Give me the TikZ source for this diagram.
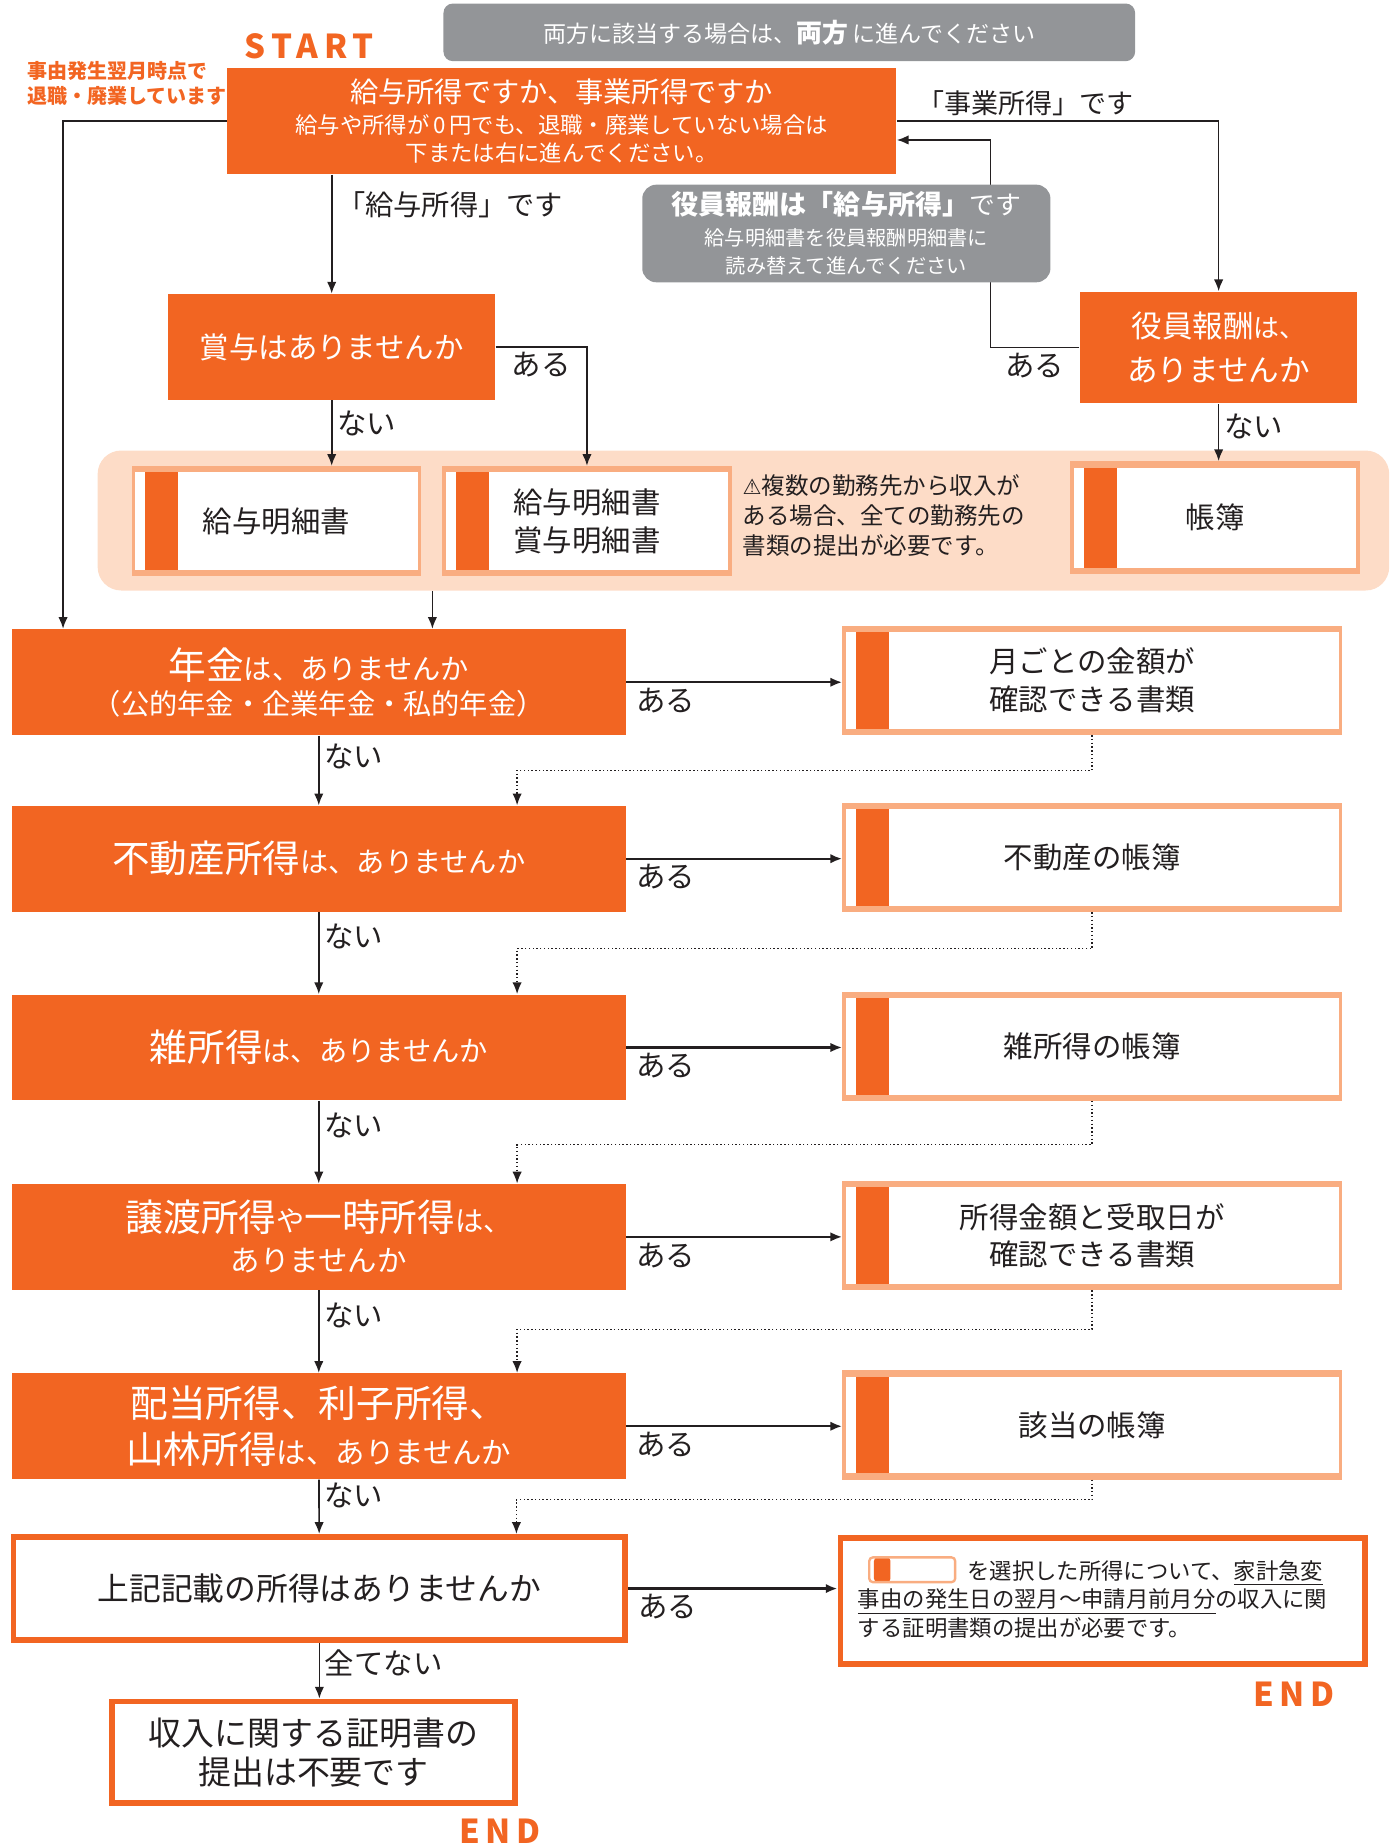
\documentclass[tikz,border=0pt]{standalone}
\usepackage{fontspec}
\setmainfont{Noto Sans CJK JP}
\newfontfamily\symfont{DejaVu Sans}
\newfontfamily\spacedfont[LetterSpace=18]{Noto Sans CJK JP}
\usetikzlibrary{arrows.meta}
\definecolor{ora}{HTML}{F26522}
\definecolor{docedge}{HTML}{F9AD81}
\definecolor{peach}{HTML}{FDDCC7}
\definecolor{note}{HTML}{939598}
\definecolor{ink}{HTML}{231F20}
\newcommand\fsz[2]{\fontsize{#1}{#2}\selectfont}
\tikzset{
  >={Latex[length=5pt,width=4pt]},
  qbox/.style={fill=ora, text=white, inner sep=0pt, align=center, minimum width=261pt, minimum height=45pt},
  docbox/.style={draw=docedge, line width=1.5pt, fill=white, inner sep=0pt, align=center, text=ink,
    font=\fsz{12.5}{16}, minimum width=211pt, minimum height=45pt,
    path picture={
      \fill[docedge] (path picture bounding box.north west) rectangle ([yshift=-2pt]path picture bounding box.north east);
      \fill[docedge] (path picture bounding box.south west) rectangle ([yshift=2pt]path picture bounding box.south east);
      \fill[ora] ([xshift=5pt,yshift=-2pt]path picture bounding box.north west) rectangle ([xshift=19pt,yshift=2pt]path picture bounding box.south west);
    }},
  endbox/.style={draw=ora, line width=2.5pt, fill=white, inner sep=0pt, align=center, text=ink},
  lbl/.style={font=\fsz{12.5}{15}, text=ink, inner sep=2pt},
  conn/.style={->, line width=0.7pt, draw=ink},
  dots/.style={->, densely dotted, line width=0.6pt, draw=ink},
  endmark/.style={text=ora, font=\spacedfont\bfseries\fsz{14}{16}},
}
\begin{document}
\begin{tikzpicture}[x=0.5pt,y=-0.5pt]
\useasboundingbox (0,0) rectangle (1186,1568.5);

% top part
\node[fill=note, rounded corners=4pt, minimum width=294pt, minimum height=24.5pt, text=white, font=\fsz{9.8}{12}] (both) at (671,27.5) {両方に該当する場合は、{\bfseries\fsz{11}{12}両方}\,に進んでください};
\node[endmark] (start) at (263,39) {START};
\node[text=ora, font=\bfseries\fsz{8.5}{10.5}, align=left] (quit) at (108,71) {事由発生翌月時点で\\退職・廃業しています};
\node[qbox, minimum width=284.5pt] (main) at (477.5,103) {{\fsz{12}{14}給与所得ですか、事業所得ですか}\\[1pt]{\fsz{9.5}{11.5}給与や所得が\,0\,円でも、退職・廃業していない場合は}\\{\fsz{9.5}{11.5}下または右に進んでください。}};
\node[qbox, minimum width=139pt, font=\fsz{12.5}{15}] (bonus) at (282,295) {賞与はありませんか};
\node[qbox, minimum width=118pt, minimum height=47.5pt] (yakuin) at (1036,295.5) {{\fsz{13}{15}役員報酬}{\fsz{11}{13}は、}\\[6.5pt]{\fsz{13}{15}ありませんか}};

% documents band
\node[fill=peach, rounded corners=10pt, minimum width=549pt, minimum height=59.5pt] (band) at (632,442.5) {};
\node[docbox, minimum width=121.5pt, minimum height=45.5pt] (slip) at (235,443) {給与明細書};
\node[docbox, minimum width=121.5pt, minimum height=45.5pt] (slipbonus) at (499,443) {給与明細書\\賞与明細書};
\node[text=ink, font=\fsz{10}{12.75}, align=left, anchor=west, inner sep=0pt] (multi) at (631,438) {{\symfont\fsz{9}{12.75}⚠}複数の勤務先から収入が\\ある場合、全ての勤務先の\\書類の提出が必要です。};
\node[docbox, minimum width=121.5pt, minimum height=46.5pt] (ledger) at (1033,440) {帳簿};

% income questions
\node[qbox] (pension) at (271,580) {{\fsz{16}{19}年金}{\fsz{12}{14}は、ありませんか}\\[3pt]{\fsz{12}{14}（公的年金・企業年金・私的年金）}};
\node[qbox] (estate) at (271,730) {{\fsz{16}{19}不動産所得}{\fsz{12}{14}は、ありませんか}};
\node[qbox] (misc) at (271,890.5) {{\fsz{16}{19}雑所得}{\fsz{12}{14}は、ありませんか}};
\node[qbox] (transfer) at (271,1051.5) {{\fsz{16}{19}譲渡所得}{\fsz{12}{14}や}{\fsz{16}{19}一時所得}{\fsz{12}{14}は、}\\[5pt]{\fsz{12.5}{14}ありませんか}};
\node[qbox] (dividend) at (271,1212.5) {{\fsz{16}{19}配当所得、利子所得、}\\[3.5pt]{\fsz{16}{19}山林所得}{\fsz{12.5}{14}は、ありませんか}};
\node[endbox, minimum width=260pt, minimum height=44pt, font=\fsz{13.5}{16}] (above) at (271.5,1350.5) {上記記載の所得はありませんか};
\node[endbox, minimum width=171pt, minimum height=43pt, font=\fsz{14}{16.5}] (noneed) at (266.5,1489.5) {収入に関する証明書の\\提出は不要です};
\node[endmark] (end1) at (425,1557) {END};

% documents
\node[docbox] (monthly) at (928.5,578.5) {月ごとの金額が\\確認できる書類};
\node[docbox] (estatebook) at (928.5,729) {不動産の帳簿};
\node[docbox] (miscbook) at (928.5,889.5) {雑所得の帳簿};
\node[docbox] (receipt) at (928.5,1050.5) {所得金額と受取日が\\確認できる書類};
\node[docbox] (bookentry) at (928.5,1211.5) {該当の帳簿};
\node[endbox, minimum width=223pt, minimum height=53.5pt] (submit) at (937.5,1361) {};
\node[draw=docedge, line width=1pt, rounded corners=1.5pt, fill=white, minimum width=36.5pt, minimum height=10.5pt, inner sep=0pt,
  path picture={\fill[ora] ([xshift=2pt]path picture bounding box.north west) rectangle ([xshift=9pt]path picture bounding box.south west);}] (icon) at (775.5,1334.5) {};
\node[anchor=north west, align=left, font=\fsz{9.5}{12.25}, text=ink, inner sep=0pt] (submittext) at (729,1326) {\hspace*{46.5pt}を選択した所得について、\underline{家計急変}\\\underline{事由の発生日の翌月～申請月前月分}の収入に関\\する証明書類の提出が必要です。};
\node[endmark] (end2) at (1100,1440) {END};

% connectors
\draw[conn] (main.west) -| ([xshift=22pt]pension.north west);
\draw[conn] (bonus.north |- main.south) -- (bonus.north) node[lbl, pos=0.25, right, font=\fsz{12}{14}] (lsalary) {「給与所得」です};
\draw[conn] (main.east) -| node[lbl, pos=0.2, above, font=\fsz{11.5}{14}] (lbusiness) {「事業所得」です} (yakuin.north);
\coordinate (back) at (842,119);
\draw[conn] (yakuin.west) -| node[lbl, pos=0.25, below] (lyakuin) {ある} (back) -- (back -| main.east);
\draw[conn] (bonus.east) -| node[lbl, pos=0.25, below] (lbonus) {ある} (slipbonus.north);
\draw[conn] (bonus.south) -- (bonus.south |- slip.north) node[lbl, pos=0.35, right] (lnobonus) {ない};
\draw[conn] (yakuin.south) -- (yakuin.south |- ledger.north) node[lbl, pos=0.4, right] (lnoyakuin) {ない};
\coordinate (bandout) at ([xshift=142.5pt]band.south west);
\draw[conn] (bandout) -- (bandout |- pension.north);

\draw[conn] (pension) -- (estate) node[lbl, pos=0.3, right] (ln1) {ない};
\draw[conn] (estate) -- (misc) node[lbl, pos=0.3, right] (ln2) {ない};
\draw[conn] (misc) -- (transfer) node[lbl, pos=0.3, right] (ln3) {ない};
\draw[conn] (transfer) -- (dividend) node[lbl, pos=0.3, right] (ln4) {ない};
\draw[conn] (dividend) -- (above) node[lbl, pos=0.3, right] (ln5) {ない};
\draw[conn] (above.south) -- (above.south |- noneed.north) node[lbl, pos=0.35, right] (lnone) {全てない};

\draw[conn, line width=1pt] (pension.east) -- (pension.east -| monthly.west) node[lbl, pos=0.02, below right] (ly1) {ある};
\draw[conn, line width=1pt] (estate.east) -- (estate.east -| estatebook.west) node[lbl, pos=0.02, below right] (ly2) {ある};
\draw[conn, line width=1pt] (misc.east) -- (misc.east -| miscbook.west) node[lbl, pos=0.02, below right] (ly3) {ある};
\draw[conn, line width=1pt] (transfer.east) -- (transfer.east -| receipt.west) node[lbl, pos=0.02, below right] (ly4) {ある};
\draw[conn, line width=1pt] (dividend.east) -- (dividend.east -| bookentry.west) node[lbl, pos=0.02, below right] (ly5) {ある};
\draw[conn, line width=1pt] (above.east) -- (above.east -| submit.west) node[lbl, pos=0.02, below right] (ly6) {ある};

\draw[dots] (monthly.south) -- ++(0,30) -| ([xshift=215pt]estate.north west);
\draw[dots] (estatebook.south) -- ++(0,31) -| ([xshift=215pt]misc.north west);
\draw[dots] (miscbook.south) -- ++(0,37) -| ([xshift=215pt]transfer.north west);
\draw[dots] (receipt.south) -- ++(0,33) -| ([xshift=215pt]dividend.north west);
\draw[dots] (bookentry.south) -- ++(0,17) -| ([xshift=215pt]above.north west);

% note over the back arrow
\node[fill=note, rounded corners=6pt, minimum width=173.5pt, minimum height=41.5pt, text=white, align=center, inner sep=0pt] (director) at (719.5,198.5) {{\bfseries\fsz{11.5}{13}役員報酬は「給与所得」}{\fsz{11}{13}です}\\[1pt]{\fsz{8.6}{10.5}給与明細書を役員報酬明細書に}\\{\fsz{8.6}{10.5}読み替えて進んでください}};
\end{tikzpicture}
\end{document}
